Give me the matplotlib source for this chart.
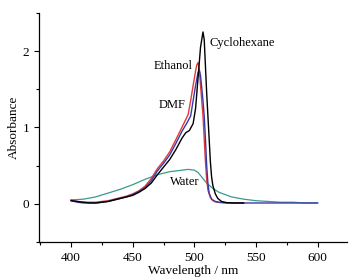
import matplotlib
matplotlib.use("Agg")
import matplotlib.pyplot as plt
from matplotlib.ticker import MultipleLocator

# Data
wl_cyc = [400, 405, 410, 415, 420, 425, 430, 435, 440, 445, 450, 455, 460, 465, 470, 475, 480,
          485, 490, 493, 496, 499, 501, 503, 505, 507, 508, 509, 510, 511, 512, 513, 514, 515,
          517, 519, 522, 526, 532, 540]
abs_cyc = [0.04, 0.03, 0.02, 0.01, 0.01, 0.02, 0.03, 0.05, 0.07, 0.09, 0.11, 0.15, 0.20, 0.27,
           0.38, 0.48, 0.58, 0.71, 0.86, 0.93, 0.96, 1.05, 1.25, 1.65, 2.05, 2.25, 2.15, 1.80,
           1.45, 1.15, 0.85, 0.55, 0.35, 0.24, 0.13, 0.07, 0.03, 0.015, 0.01, 0.01]

wl_eth = [400, 405, 410, 415, 420, 425, 430, 435, 440, 445, 450, 455, 460, 465, 470, 475, 480,
          485, 489, 492, 495, 497, 499, 501, 502, 503, 504, 505, 506, 507, 508, 509, 510, 511,
          513, 515, 518, 525, 540]
abs_eth = [0.05, 0.03, 0.02, 0.02, 0.02, 0.03, 0.04, 0.06, 0.08, 0.10, 0.13, 0.17, 0.23, 0.33,
           0.46, 0.56, 0.68, 0.84, 0.97, 1.07, 1.17, 1.35, 1.55, 1.74, 1.82, 1.85, 1.76, 1.55,
           1.35, 1.15, 0.85, 0.55, 0.32, 0.18, 0.08, 0.04, 0.02, 0.01, 0.01]

wl_dmf = [400, 405, 410, 415, 420, 425, 430, 435, 440, 445, 450, 455, 460, 465, 470, 475, 480,
          485, 490, 494, 497, 499, 501, 503, 504, 505, 506, 507, 508, 509, 510, 511, 512, 514,
          517, 520, 530, 540, 560, 580, 600]
abs_dmf = [0.04, 0.02, 0.01, 0.01, 0.01, 0.02, 0.03, 0.05, 0.07, 0.09, 0.12, 0.16, 0.21, 0.30,
           0.43, 0.53, 0.64, 0.79, 0.95, 1.06, 1.15, 1.35, 1.55, 1.72, 1.75, 1.68, 1.52, 1.35,
           1.15, 0.85, 0.50, 0.27, 0.14, 0.06, 0.03, 0.02, 0.01, 0.01, 0.01, 0.01, 0.01]

wl_wat = [400, 410, 420, 430, 440, 450, 460, 470, 480, 490, 495, 500, 503, 506, 510, 515, 520,
          525, 530, 540, 550, 560, 570, 580, 590, 600]
abs_wat = [0.05, 0.06, 0.09, 0.14, 0.19, 0.25, 0.32, 0.38, 0.42, 0.44, 0.45, 0.44, 0.41, 0.35,
           0.27, 0.20, 0.15, 0.12, 0.09, 0.06, 0.04, 0.03, 0.02, 0.02, 0.01, 0.01]

xticks = [400, 450, 500, 550, 600]
yticks = [0, 1, 2]

plt.rcParams['font.family'] = ['Liberation Serif', 'DejaVu Serif']

fig = plt.figure(figsize=(3.62, 2.80), dpi=100)
ax = fig.add_axes([0.108, 0.136, 0.851, 0.818])

ax.plot(wl_wat, abs_wat, color='#3a9a8c', lw=0.9)
ax.plot(wl_eth, abs_eth, color='#e03a3a', lw=1.0)
ax.plot(wl_dmf, abs_dmf, color='#3a3aaa', lw=1.0)
ax.plot(wl_cyc, abs_cyc, color='black', lw=1.0)

ax.set_xlim(374, 624)
ax.set_ylim(-0.5, 2.5)
ax.set_xticks(xticks)
ax.set_yticks(yticks)
ax.xaxis.set_minor_locator(MultipleLocator(25))
ax.yaxis.set_minor_locator(MultipleLocator(0.5))

for s in ['top', 'right']:
    ax.spines[s].set_visible(False)
for s in ['left', 'bottom']:
    ax.spines[s].set_linewidth(0.9)

ax.tick_params(which='major', direction='out', length=3.5, width=0.8, labelsize=9.5)
ax.tick_params(which='minor', direction='out', length=2, width=0.8)

ax.set_xlabel('Wavelength / nm', fontsize=9.5, labelpad=1)
ax.set_ylabel('Absorbance', fontsize=9.5, labelpad=2)

ax.text(512, 2.1, 'Cyclohexane', fontsize=9, va='center', ha='left')
ax.text(467.2, 1.80, 'Ethanol', fontsize=9, va='center', ha='left')
ax.text(471.3, 1.29, 'DMF', fontsize=9, va='center', ha='left')
ax.text(480.2, 0.28, 'Water', fontsize=9, va='center', ha='left')

fig.savefig('out.png', dpi=100)
